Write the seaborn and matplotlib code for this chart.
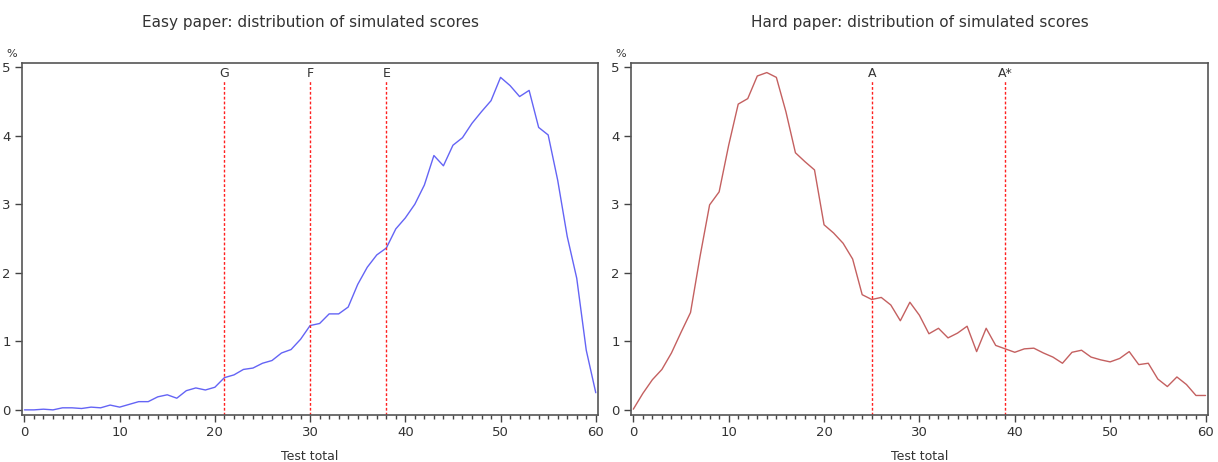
import numpy as np
import pandas as pd
import matplotlib
matplotlib.use("Agg")
import matplotlib.pyplot as plt
import seaborn as sns
from matplotlib.ticker import MultipleLocator

# Test totals 0..60
scores = list(range(61))

# % of simulated candidates at each total
easy_pct = [0.00, 0.00, 0.01, 0.00, 0.03, 0.03, 0.02, 0.04, 0.03, 0.07,
            0.04, 0.08, 0.12, 0.12, 0.19, 0.22, 0.17, 0.28, 0.32, 0.29,
            0.33, 0.47, 0.51, 0.59, 0.61, 0.68, 0.72, 0.83, 0.88, 1.03,
            1.23, 1.26, 1.40, 1.40, 1.50, 1.83, 2.08, 2.26, 2.36, 2.64,
            2.80, 3.00, 3.28, 3.71, 3.56, 3.86, 3.97, 4.18, 4.35, 4.51,
            4.85, 4.73, 4.57, 4.66, 4.12, 4.01, 3.35, 2.53, 1.92, 0.87,
            0.25]

hard_pct = [0.01, 0.24, 0.44, 0.59, 0.83, 1.13, 1.42, 2.24, 2.99, 3.18,
            3.86, 4.46, 4.54, 4.87, 4.92, 4.85, 4.35, 3.75, 3.62, 3.50,
            2.70, 2.58, 2.43, 2.20, 1.68, 1.61, 1.64, 1.53, 1.30, 1.57,
            1.38, 1.11, 1.19, 1.05, 1.12, 1.22, 0.85, 1.19, 0.94, 0.89,
            0.84, 0.89, 0.90, 0.83, 0.77, 0.68, 0.84, 0.87, 0.77, 0.73,
            0.70, 0.75, 0.85, 0.66, 0.68, 0.45, 0.34, 0.48, 0.37, 0.21,
            0.21]

# grade boundaries
easy_grades = ["G", "F", "E"]
easy_bounds = [21, 30, 38]
hard_grades = ["A", "A*"]
hard_bounds = [25, 39]

df = pd.DataFrame({"score": scores, "easy": easy_pct, "hard": hard_pct})

sns.set_style("ticks")
plt.rcParams["font.family"] = ["DejaVu Sans"]

fig = plt.figure(figsize=(12.18, 4.62), dpi=100)
ax1 = fig.add_axes([0.0181, 0.1017, 0.473, 0.762])
ax2 = fig.add_axes([0.518, 0.1017, 0.4737, 0.762])

panels = [
    (ax1, "easy", "#6464f5", easy_grades, easy_bounds, "Easy paper: distribution of simulated scores"),
    (ax2, "hard", "#c46060", hard_grades, hard_bounds, "Hard paper: distribution of simulated scores"),
]

for ax, col, color, grades, bounds, title in panels:
    sns.lineplot(data=df, x="score", y=col, ax=ax, color=color, linewidth=1.0)
    ax.set_xlim(-0.25, 60.25)
    ax.set_ylim(-0.075, 5.06)
    for g, b in zip(grades, bounds):
        ax.vlines(b, -0.075, 4.8, colors="#ff2020", linestyles=(0, (2, 1.5)), linewidth=1.0)
        ax.text(b, 4.91, g, ha="center", va="center", fontsize=9, color="#333333")
    ax.xaxis.set_major_locator(MultipleLocator(10))
    ax.xaxis.set_minor_locator(MultipleLocator(1))
    ax.yaxis.set_major_locator(MultipleLocator(1))
    ax.tick_params(axis="both", which="major", labelsize=9.5, length=5, width=1,
                   color="#444444", labelcolor="#333333", pad=3)
    ax.tick_params(axis="x", which="minor", length=3, width=1, color="#444444")
    ax.set_xlabel("Test total", fontsize=9, color="#333333", labelpad=8)
    ax.set_ylabel("")
    ax.set_title(title, fontsize=11, color="#333333", pad=26)
    ax.annotate("%", xy=(-0.018, 1.01), xycoords="axes fraction", ha="center", va="bottom",
                fontsize=8, color="#333333")
    for s in ax.spines.values():
        s.set_color("#555555")
        s.set_linewidth(1.2)

fig.savefig("out.png", dpi=100)
